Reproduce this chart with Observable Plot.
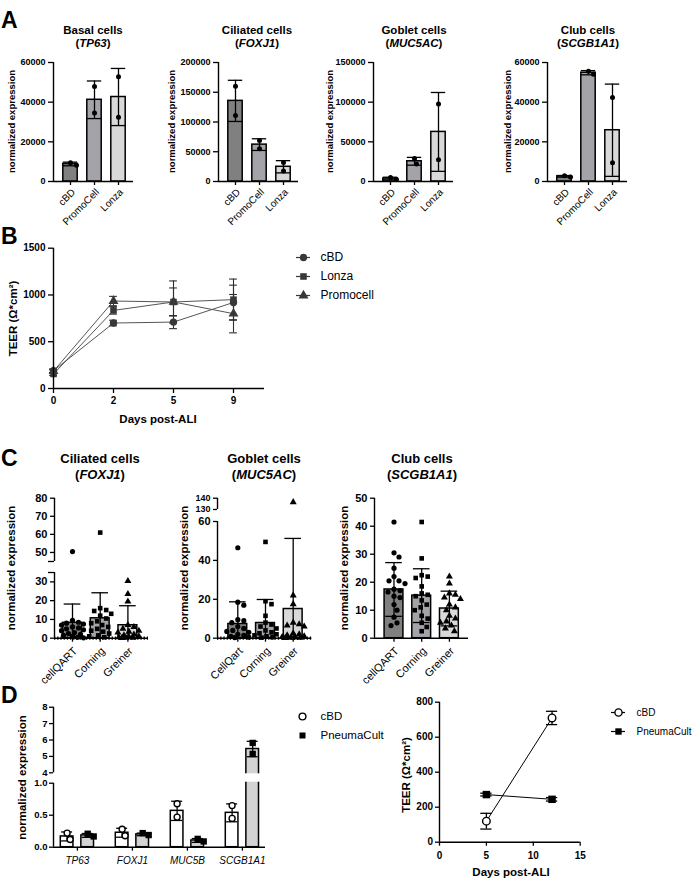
<!DOCTYPE html>
<html>
<head>
<meta charset="utf-8">
<script src="https://cdn.jsdelivr.net/npm/d3@7"></script>
<script src="https://cdn.jsdelivr.net/npm/@observablehq/plot@0.6"></script>
<style>
  html, body { margin: 0; padding: 0; background: #fff; }
  #root { position: relative; width: 698px; height: 889px; overflow: hidden; background: #fff; }
  #root svg { position: absolute; max-width: none; }
</style>
</head>
<body>
<div id="root"></div>
<script>
// ================= DATA =================
// Panel A (n = 2 donors per source)
const aGroups = ["cBD", "PromoCell", "Lonza"];
const aTitles = ["Basal cells", "Ciliated cells", "Goblet cells", "Club cells"];
const aGenes = ["TP63", "FOXJ1", "MUC5AC", "SCGB1A1"];
const basalMean = [8850, 41200, 42600];
const basalSD = [920, 9480, 14400];
const basalPts = [[8200, 9500], [47900, 34500], [52800, 32400]];
const ciliatedMean = [135500, 62000, 24750];
const ciliatedSD = [34600, 9800, 10250];
const ciliatedPts = [[160000, 111000], [69000, 55000], [32000, 17500]];
const gobletMean = [3700, 25500, 62500];
const gobletSD = [1700, 4900, 49700];
const gobletPts = [[2500, 4900], [29000, 22000], [97700, 27400]];
const clubMean = [2600, 54850, 25850];
const clubSD = [420, 1060, 23260];
const clubPts = [[2300, 2900], [54100, 55600], [42300, 9400]];

// Panel B (TEER over time)
const bDays = ["0", "2", "5", "9"];
const bSeries = ["cBD", "Lonza", "Promocell"];
const bCbd = [190, 700, 710, 920];
const bCbdSD = [20, 30, 70, 185];
const bLonza = [155, 835, 925, 950];
const bLonzaSD = [15, 40, 150, 220];
const bPromo = [185, 935, 925, 800];
const bPromoSD = [15, 50, 225, 205];

// Panel C (membranes)
const cTitles = ["Ciliated cells", "Goblet cells", "Club cells"];
const cGenes = ["FOXJ1", "MUC5AC", "SCGB1A1"];
const cGroupsA = ["cellQART", "Corning", "Greiner"];
const cGroupsB = ["CellQart", "Corning", "Greiner"];
const foxMean = [8.2, 10.6, 6.9];
const foxSD = [10.0, 13.6, 10.4];
const foxPts = [
  [50.5, 9.5, 8.5, 8, 7.5, 7, 6, 5.5, 5, 4.5, 4, 3, 2.5, 2, 1.5, 1, 0.5, 0.2],
  [61, 16, 15, 14.5, 13, 12, 10.5, 9, 8, 7, 6, 5, 4, 3.5, 2.5, 1.5, 1, 0.5],
  [30.5, 23.5, 19.5, 7, 6, 5, 4, 3.5, 3, 2, 1.5, 1, 0.8, 0.5, 0.3, 0.2, 0.1]
];
const mucMean = [7.3, 7.8, 15.0];
const mucSD = [11.4, 12.1, 36.3];
const mucPts = [
  [46.5, 18.5, 17, 9.5, 9, 8, 6, 5, 4, 3.5, 3, 2, 1.5, 1, 0.5, 0.3],
  [49.5, 19, 17.5, 11.5, 8, 7, 6, 5, 4, 3, 2.5, 2, 1.5, 1, 0.5, 0.3],
  [136.5, 22, 17.5, 8, 7.2, 6.5, 6, 2.5, 2, 1.5, 1, 0.6, 0.4, 0.3, 0.2, 0.1]
];
const scgbMean = [17.4, 15.2, 10.6];
const scgbSD = [9.6, 9.6, 6.2];
const scgbPts = [
  [41.5, 30.5, 29, 25, 22, 20.5, 20.5, 19.5, 17.5, 17, 16.5, 15, 14.5, 12, 10, 7.5, 5.5, 4.5],
  [41.5, 28.5, 22.5, 22, 21.5, 18.5, 16, 15.5, 15, 13.5, 12, 11, 10, 8, 7, 5.5, 4, 2.5],
  [22, 19.5, 16, 15.5, 14.5, 14, 12, 11, 10, 8, 7, 6, 5.5, 4.5, 3.5, 2.5]
];

// Panel D (medium comparison)
const dGenes = ["TP63", "FOXJ1", "MUC5B", "SCGB1A1"];
const dSeries = ["cBD", "PneumaCult"];
const dCbdMean = [0.168, 0.226, 0.568, 0.537];
const dCbdSD = [0.07, 0.07, 0.15, 0.14];
const dCbdPts = [[0.22, 0.12], [0.28, 0.18], [0.68, 0.47], [0.65, 0.45]];
const dPcMean = [0.184, 0.2, 0.105, 5.45];
const dPcSD = [0.03, 0.02, 0.03, 0.47];
const dPcPts = [[0.168, 0.21], [0.19, 0.22], [0.09, 0.13], [5.82, 5.15]];
const dTeerDays = [5, 12];
const dTeerCbd = [120, 710];
const dTeerCbdSD = [45, 38];
const dTeerPc = [272, 245];
const dTeerPcSD = [8, 10];

// ================= STYLE / HELPERS =================
const FONT = '"Liberation Sans", Arial, Helvetica, sans-serif';
const GREYS = ["#808080", "#a3a3a9", "#d9d9d9"];
const root = document.getElementById("root");

function put(node, left, top) {
  node.style.position = "absolute";
  node.style.left = left + "px";
  node.style.top = top + "px";
  root.appendChild(node);
}
function baseStyle(fs) {
  return {fontFamily: FONT, fontSize: fs + "px", fontWeight: "bold", color: "black",
          background: "transparent", overflow: "visible"};
}
// simple deterministic swarm layout (pixel offsets)
function swarm(vals, yPx, maxOff, minD) {
  const order = d3.range(vals.length).sort((a, b) => d3.descending(vals[a], vals[b]));
  const placed = [];
  const off = new Array(vals.length).fill(0);
  for (const i of order) {
    const py = yPx(vals[i]);
    let best = 0, bestD = -Infinity;
    for (let k = 0; k < 400; k++) {
      const c = k === 0 ? 0 : (k % 2 ? 1 : -1) * Math.ceil(k / 2);
      if (Math.abs(c) > maxOff) break;
      const d = placed.length ? d3.min(placed, p => Math.hypot(p[0] - c, p[1] - py)) : Infinity;
      if (d >= minD) { best = c; bestD = d; break; }
      if (d > bestD) { bestD = d; best = c; }
    }
    off[i] = best;
    placed.push([best, py]);
  }
  return off;
}

function barPanel(o) {
  const mL = 50, mR = 12;
  const L = o.axisX - mL, T = o.top, W = mL + (o.endX - o.axisX) + mR, H = o.height;
  const yLocal = o.yRange.map(v => v - T);
  const mT = yLocal[yLocal.length - 1], mB = H - yLocal[0];
  const xDom = [(o.axisX - o.firstX) / o.step, (o.endX - o.firstX) / o.step];
  const yPx = d3.scaleLinear().domain(o.yDomain).range(yLocal);
  const y0 = o.yDomain[0];
  const n = o.cats.length;
  const bars = o.cats.map((c, i) => ({i, c, m: o.means[i], sd: o.sds[i]}));
  const dots = [];
  o.points.forEach((vals, i) => {
    const off = swarm(vals, yPx, o.maxOff, 2 * o.dotR + 0.8);
    vals.forEach((v, j) => dots.push({i, c: o.cats[i], v, x: i + off[j] / o.step}));
  });
  const ink = {stroke: "black", strokeWidth: 1.3};
  const marks = [];
  bars.forEach(b => marks.push(Plot.rect([b], {
    x1: d => d.i - o.barHalf, x2: d => d.i + o.barHalf, y1: () => y0, y2: "m",
    fill: GREYS[b.i], stroke: "black", strokeWidth: 1.5})));
  marks.push(Plot.ruleX(bars, {x: "i", y1: d => Math.max(y0, d.m - d.sd), y2: d => d.m + d.sd, ...ink}));
  marks.push(Plot.ruleY(bars, {y: d => d.m + d.sd, x1: d => d.i - o.capHalf, x2: d => d.i + o.capHalf, ...ink}));
  marks.push(Plot.ruleY(bars.filter(d => d.m - d.sd > y0), {y: d => d.m - d.sd, x1: d => d.i - o.capHalf, x2: d => d.i + o.capHalf, ...ink}));
  marks.push(Plot.dot(dots, {x: "x", y: "v", symbol: "c", fill: "black", r: o.dotR}));
  // axes
  o.segments.forEach(s => marks.push(Plot.ruleX([xDom[0]], {x: d => d, y1: () => s[0], y2: () => s[1], strokeWidth: 1.4})));
  marks.push(Plot.ruleY([y0], {y: d => d, x1: () => xDom[0], x2: () => xDom[1], strokeWidth: 1.4}));
  if (o.dotted) marks.push(Plot.ruleY([y0], {y: d => d, x1: () => xDom[0], x2: () => xDom[1], strokeWidth: 3.2, strokeDasharray: "1.3,1.9"}));
  marks.push(Plot.axisY({ticks: o.yTicks, tickFormat: o.yFormat, tickSize: o.tickSize, tickPadding: o.tickPad, strokeWidth: 1.3, fontSize: o.tickFont, label: null}));
  (o.extraTicks || []).forEach(t => marks.push(Plot.axisY({ticks: t.ticks, tickFormat: t.format, tickSize: t.size, tickPadding: o.tickPad, strokeWidth: 1.3, fontSize: t.font, label: null})));
  marks.push(Plot.axisX({ticks: d3.range(n), tickFormat: () => "", tickSize: 4, strokeWidth: 1.3, label: null}));
  marks.push(Plot.text(bars, {x: "i", y: () => y0, text: "c", rotate: -45, textAnchor: "end",
    dx: o.lblDx, dy: o.lblDy, fontSize: o.lblSize, fontWeight: "normal"}));
  const svg = Plot.plot({
    width: W, height: H, marginLeft: mL, marginRight: mR, marginTop: mT, marginBottom: mB,
    x: {type: "linear", domain: xDom, range: [mL, W - mR], label: null},
    y: {type: "linear", domain: o.yDomain, range: yLocal, label: null},
    symbol: {domain: o.cats, range: o.symbols},
    style: baseStyle(o.tickFont),
    marks
  });
  put(svg, L, T);
}

function legendPlot(o) {
  const L = o.left, T = o.top, W = o.width, H = o.height;
  const rows = o.names.map((n, i) => ({n, i}));
  const marks = [];
  if (o.line) marks.push(Plot.ruleY(rows, {y: "n", x1: () => o.symX - L - o.lineHalf, x2: () => o.symX - L + o.lineHalf, stroke: o.lineColor, strokeWidth: 1.2}));
  rows.forEach(r => marks.push(Plot.dot([r], {x: () => o.symX - L, y: "n", symbol: o.symbols[r.i],
    fill: o.fills[r.i], stroke: o.strokes[r.i], strokeWidth: 1.4, r: o.r})));
  marks.push(Plot.text(rows, {x: () => o.textX - L, y: "n", text: "n", textAnchor: "start", fontSize: o.font, fontWeight: "normal"}));
  const svg = Plot.plot({
    width: W, height: H, margin: 0,
    x: {type: "linear", domain: [0, W], range: [0, W], axis: null},
    y: {type: "point", domain: o.names, range: [o.rowY[0] - T, o.rowY[o.rowY.length - 1] - T], padding: 0, axis: null},
    style: baseStyle(o.font),
    marks
  });
  put(svg, L, T);
}

// ================= PANEL A =================
const aSets = [
  {axisX: 53, means: basalMean, sds: basalSD, pts: basalPts, ticks: [0, 20000, 40000, 60000]},
  {axisX: 218, means: ciliatedMean, sds: ciliatedSD, pts: ciliatedPts, ticks: [0, 50000, 100000, 150000, 200000]},
  {axisX: 373, means: gobletMean, sds: gobletSD, pts: gobletPts, ticks: [0, 50000, 100000, 150000]},
  {axisX: 547, means: clubMean, sds: clubSD, pts: clubPts, ticks: [0, 20000, 40000, 60000]}
];
aSets.forEach(s => barPanel({
  axisX: s.axisX, endX: s.axisX + 80, firstX: s.axisX + 17, step: 24, top: 50, height: 190,
  yDomain: [0, s.ticks[s.ticks.length - 1]], yRange: [181, 62], yTicks: s.ticks, yFormat: d3.format("d"),
  segments: [[0, s.ticks[s.ticks.length - 1]]],
  cats: aGroups, means: s.means, sds: s.sds, points: s.pts, symbols: ["circle", "circle", "circle"],
  barHalf: 0.3, capHalf: 0.3, dotR: 2.5, maxOff: 6,
  tickFont: 9, tickSize: 5, tickPad: 3, lblSize: 10, lblDx: 3, lblDy: 9
}));

// ================= PANEL B =================
(function panelB() {
  const mL = 50, mR = 14, axisX = 53, endX = 264, T = 240, H = 180;
  const L = axisX - mL, W = mL + (endX - axisX) + mR;
  const yLocal = [388 - T, 247.7 - T];
  const xDom = [0, (endX - axisX) / 60];
  const vals = [bCbd, bLonza, bPromo], sds = [bCbdSD, bLonzaSD, bPromoSD];
  const rows = [];
  bSeries.forEach((s, k) => bDays.forEach((d, i) => rows.push({s, i, v: vals[k][i], sd: sds[k][i]})));
  const ink = {stroke: "#2e2e2e", strokeWidth: 1.1};
  const cap = 0.065;
  const svg = Plot.plot({
    width: W, height: H, marginLeft: mL, marginRight: mR, marginTop: yLocal[1], marginBottom: H - yLocal[0],
    x: {type: "linear", domain: xDom, range: [mL, W - mR], label: null},
    y: {type: "linear", domain: [0, 1500], range: yLocal, label: null},
    symbol: {domain: bSeries, range: ["circle", "square", "triangle"]},
    style: baseStyle(10),
    marks: [
      Plot.line(rows, {x: "i", y: "v", z: "s", stroke: "#555", strokeWidth: 1}),
      Plot.ruleX(rows, {x: "i", y1: d => d.v - d.sd, y2: d => d.v + d.sd, ...ink}),
      Plot.ruleY(rows, {y: d => d.v + d.sd, x1: d => d.i - cap, x2: d => d.i + cap, ...ink}),
      Plot.ruleY(rows, {y: d => d.v - d.sd, x1: d => d.i - cap, x2: d => d.i + cap, ...ink}),
      Plot.dot(rows, {x: "i", y: "v", symbol: "s", fill: "#383838", r: 3.7}),
      Plot.ruleX([0], {x: d => d, y1: () => 0, y2: () => 1500, strokeWidth: 1.4}),
      Plot.ruleY([0], {y: d => d, x1: () => xDom[0], x2: () => xDom[1], strokeWidth: 1.4}),
      Plot.axisY({ticks: [0, 500, 1000, 1500], tickFormat: d3.format("d"), tickSize: 5, tickPadding: 3, strokeWidth: 1.3, label: null}),
      Plot.axisX({ticks: [0, 1, 2, 3], tickFormat: i => bDays[i], tickSize: 5, tickPadding: 3, strokeWidth: 1.3, label: null})
    ]
  });
  put(svg, L, T);
})();
legendPlot({left: 285, top: 245, width: 110, height: 60, names: bSeries, rowY: [257, 276, 295],
  symbols: ["circle", "square", "triangle"], fills: ["#383838", "#383838", "#383838"], strokes: ["none", "none", "none"],
  r: 3.7, line: true, lineHalf: 7, lineColor: "#383838", symX: 303, textX: 320, font: 12});

// ================= PANEL C =================
const cStyle = {top: 490, height: 200, step: 27.7, barHalf: 0.34, capHalf: 0.3, dotR: 2.6, maxOff: 11,
  tickFont: 11, tickSize: 4, tickPad: 3, lblSize: 11, lblDx: 3, lblDy: 11,
  symbols: ["circle", "square", "triangle"]};
barPanel({...cStyle, axisX: 54, endX: 148, firstX: 72,
  yDomain: [0, 35, 45, 80], yRange: [637.7, 572, 561, 497.7],
  yTicks: [0, 10, 20, 30, 50, 60, 70, 80], yFormat: d3.format("d"),
  extraTicks: [{ticks: [35, 45], format: () => "", size: 6, font: 11}],
  segments: [[0, 35], [45, 80]], dotted: true,
  cats: cGroupsA, means: foxMean, sds: foxSD, points: foxPts});
barPanel({...cStyle, axisX: 216.7, endX: 311, firstX: 237,
  yDomain: [0, 60, 130, 140], yRange: [637.7, 521, 509, 497.7],
  yTicks: [0, 20, 40, 60], yFormat: d3.format("d"),
  extraTicks: [{ticks: [130, 140], format: d3.format("d"), size: 4, font: 9}],
  segments: [[0, 60], [130, 140]], dotted: true,
  cats: cGroupsB, means: mucMean, sds: mucSD, points: mucPts});
barPanel({...cStyle, axisX: 374, endX: 468, firstX: 393.5,
  yDomain: [0, 50], yRange: [637.7, 497.7],
  yTicks: [0, 10, 20, 30, 40, 50], yFormat: d3.format("d"),
  segments: [[0, 50]],
  cats: cGroupsA, means: scgbMean, sds: scgbSD, points: scgbPts});

// ================= PANEL D (bars) =================
(function panelD1() {
  const axisX = 53, endX = 265, firstX = 76.9, step = 55, T = 695, H = 185, mL = 50, mR = 12;
  const L = axisX - mL, W = mL + (endX - axisX) + mR;
  const yDomain = [0, 1, 4, 8];
  const yLocal = [846.7, 782.7, 772.3, 706.7].map(v => v - T);
  const xDom = [(axisX - firstX) / step, (endX - firstX) / step];
  const yPx = d3.scaleLinear().domain(yDomain).range(yLocal);
  const off = 0.187, half = 0.115, cap = 0.1, r = 3.2;
  const groups = [
    {s: dSeries[0], dx: -off, means: dCbdMean, sds: dCbdSD, pts: dCbdPts},
    {s: dSeries[1], dx: off, means: dPcMean, sds: dPcSD, pts: dPcPts}
  ];
  const bars = [], dots = [];
  groups.forEach(g => dGenes.forEach((gene, i) => {
    const x = i + g.dx;
    bars.push({s: g.s, x, m: g.means[i], sd: g.sds[i]});
    const o = swarm(g.pts[i], yPx, 6, 2 * r + 0.6);
    g.pts[i].forEach((v, j) => dots.push({s: g.s, x: x + o[j] / step, v}));
  }));
  const ink = {stroke: "black", strokeWidth: 1.3};
  const isC = d => d.s === dSeries[0];
  const svg = Plot.plot({
    width: W, height: H, marginLeft: mL, marginRight: mR, marginTop: yLocal[3], marginBottom: H - yLocal[0],
    x: {type: "linear", domain: xDom, range: [mL, W - mR], label: null},
    y: {type: "linear", domain: yDomain, range: yLocal, label: null},
    style: baseStyle(9.5),
    marks: [
      Plot.rect(bars.filter(isC), {x1: d => d.x - half, x2: d => d.x + half, y1: () => 0, y2: "m", fill: "white", stroke: "black", strokeWidth: 1.5}),
      Plot.rect(bars.filter(d => !isC(d)), {x1: d => d.x - half, x2: d => d.x + half, y1: () => 0, y2: "m", fill: "#d3d3d3", stroke: "black", strokeWidth: 1.5}),
      Plot.rect([0], {x1: () => xDom[0], x2: () => xDom[1], y1: () => 1, y2: () => 4, fill: "white", insetTop: 1, insetBottom: 1}),
      Plot.ruleX(bars, {x: "x", y1: d => Math.max(0, d.m - d.sd), y2: d => d.m + d.sd, ...ink}),
      Plot.ruleY(bars, {y: d => d.m + d.sd, x1: d => d.x - cap, x2: d => d.x + cap, ...ink}),
      Plot.ruleY(bars, {y: d => d.m - d.sd, x1: d => d.x - cap, x2: d => d.x + cap, ...ink}),
      Plot.dot(dots.filter(isC), {x: "x", y: "v", symbol: "circle", fill: "white", stroke: "black", strokeWidth: 1.4, r: 3}),
      Plot.dot(dots.filter(d => !isC(d)), {x: "x", y: "v", symbol: "square", fill: "black", r: 3.6}),
      Plot.ruleX([xDom[0]], {x: d => d, y1: () => 0, y2: () => 1, strokeWidth: 1.4}),
      Plot.ruleX([xDom[0]], {x: d => d, y1: () => 4, y2: () => 8, strokeWidth: 1.4}),
      Plot.ruleY([0], {y: d => d, x1: () => xDom[0], x2: () => xDom[1], strokeWidth: 1.4}),
      Plot.axisY({ticks: [0, 0.5, 1], tickFormat: d3.format(".1f"), tickSize: 4, tickPadding: 2, strokeWidth: 1.3, label: null}),
      Plot.axisY({ticks: [4, 5, 6, 7, 8], tickFormat: d3.format("d"), tickSize: 4, tickPadding: 2, strokeWidth: 1.3, label: null}),
      Plot.axisX({ticks: [0, 1, 2, 3], tickFormat: () => "", tickSize: 4, strokeWidth: 1.3, label: null}),
      Plot.text(dGenes.map((g, i) => ({g, i})), {x: "i", y: () => 0, text: "g", dy: 14, fontStyle: "italic", fontWeight: "normal", fontSize: 10})
    ]
  });
  put(svg, L, T);
})();
legendPlot({left: 290, top: 700, width: 110, height: 50, names: dSeries, rowY: [716, 735.7],
  symbols: ["circle", "square"], fills: ["white", "black"], strokes: ["black", "none"],
  r: 3.4, line: false, symX: 302, textX: 320, font: 11.5});

// ================= PANEL D (TEER) =================
(function panelD2() {
  const axisX = 439.3, endX = 580, T = 690, H = 170, mL = 49, mR = 10;
  const L = axisX - mL, W = mL + (endX - axisX) + mR;
  const yLocal = [841.7 - T, 701.7 - T];
  const rows = [];
  dTeerDays.forEach((d, i) => {
    rows.push({s: dSeries[0], d, v: dTeerCbd[i], sd: dTeerCbdSD[i]});
    rows.push({s: dSeries[1], d, v: dTeerPc[i], sd: dTeerPcSD[i]});
  });
  const isC = d => d.s === dSeries[0];
  const ink = {stroke: "black", strokeWidth: 1.3};
  const cap = 0.6;
  const svg = Plot.plot({
    width: W, height: H, marginLeft: mL, marginRight: mR, marginTop: yLocal[1], marginBottom: H - yLocal[0],
    x: {type: "linear", domain: [0, 15], range: [mL, W - mR], label: null},
    y: {type: "linear", domain: [0, 800], range: yLocal, label: null},
    style: baseStyle(10),
    marks: [
      Plot.line(rows, {x: "d", y: "v", z: "s", stroke: "black", strokeWidth: 1}),
      Plot.ruleX(rows, {x: "d", y1: d => d.v - d.sd, y2: d => d.v + d.sd, ...ink}),
      Plot.ruleY(rows, {y: d => d.v + d.sd, x1: d => d.d - cap, x2: d => d.d + cap, ...ink}),
      Plot.ruleY(rows, {y: d => d.v - d.sd, x1: d => d.d - cap, x2: d => d.d + cap, ...ink}),
      Plot.dot(rows.filter(isC), {x: "d", y: "v", symbol: "circle", fill: "white", stroke: "black", strokeWidth: 1.4, r: 3.8}),
      Plot.dot(rows.filter(d => !isC(d)), {x: "d", y: "v", symbol: "square", fill: "black", r: 4.2}),
      Plot.ruleX([0], {x: d => d, y1: () => 0, y2: () => 800, strokeWidth: 1.4}),
      Plot.ruleY([0], {y: d => d, x1: () => 0, x2: () => 15, strokeWidth: 1.4}),
      Plot.axisY({ticks: [0, 200, 400, 600, 800], tickFormat: d3.format("d"), tickSize: 4, tickPadding: 2.5, strokeWidth: 1.3, label: null}),
      Plot.axisX({ticks: [0, 5, 10, 15], tickFormat: d3.format("d"), tickSize: 4, tickPadding: 6, strokeWidth: 1.3, label: null})
    ]
  });
  put(svg, L, T);
})();
legendPlot({left: 600, top: 700, width: 98, height: 45, names: dSeries, rowY: [711.7, 730.7],
  symbols: ["circle", "square"], fills: ["white", "black"], strokes: ["black", "none"],
  r: 3.6, line: true, lineHalf: 7, lineColor: "black", symX: 618, textX: 636, font: 10});

// ================= TEXT OVERLAY =================
const ov = d3.create("svg").attr("width", 698).attr("height", 889)
  .style("left", "0px").style("top", "0px").style("overflow", "visible")
  .attr("font-family", FONT).attr("fill", "black");
function letter(s, x, y) {
  ov.append("text").attr("x", x).attr("y", y).attr("font-size", 23).attr("font-weight", "bold").text(s);
}
function title(cx, y1, y2, main, gene, fs) {
  ov.append("text").attr("x", cx).attr("y", y1).attr("text-anchor", "middle").attr("font-size", fs).attr("font-weight", "bold").text(main);
  const t = ov.append("text").attr("x", cx).attr("y", y2).attr("text-anchor", "middle").attr("font-size", fs).attr("font-weight", "bold");
  t.append("tspan").text("(");
  t.append("tspan").attr("font-style", "italic").text(gene);
  t.append("tspan").text(")");
}
function ylab(cx, cy, s, fs) {
  ov.append("text").attr("transform", `translate(${cx + 0.33 * fs},${cy}) rotate(-90)`)
    .attr("text-anchor", "middle").attr("font-size", fs).attr("font-weight", "bold").text(s);
}
function xlab(cx, y, s, fs) {
  ov.append("text").attr("x", cx).attr("y", y).attr("text-anchor", "middle").attr("font-size", fs).attr("font-weight", "bold").text(s);
}
letter("A", 1, 28); letter("B", 1, 244); letter("C", 1, 466); letter("D", 1, 703);
[93, 257, 414, 588].forEach((cx, k) => title(cx, 34, 47, aTitles[k], aGenes[k], 11.5));
[100, 264, 422].forEach((cx, k) => title(cx, 463, 479, cTitles[k], cGenes[k], 13));
[12, 172, 330, 508].forEach(cx => ylab(cx, 121.5, "normalized expression", 9.5));
[11, 184, 344].forEach(cx => ylab(cx, 568, "normalized expression", 11.5));
ylab(22, 777.5, "normalized expression", 11.5);
ylab(13, 318.5, "TEER (\u03A9*cm\u00B2)", 11.5);
ylab(406, 775, "TEER (\u03A9*cm\u00B2)", 11.5);
xlab(158, 423, "Days post-ALI", 11.5);
xlab(511, 876, "Days post-ALI", 11.5);
root.appendChild(ov.node());
</script>
</body>
</html>
